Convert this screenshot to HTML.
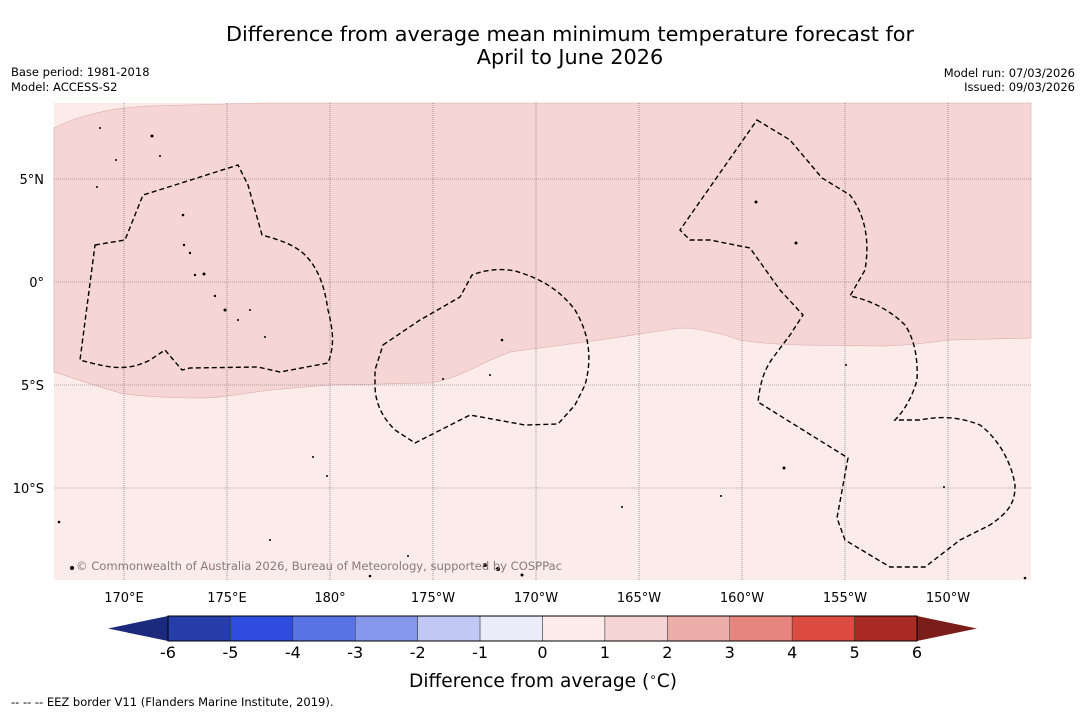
<!DOCTYPE html>
<html><head><meta charset="utf-8"><style>
body{margin:0;background:#fff;font-family:"Liberation Sans","DejaVu Sans",sans-serif;}
svg{display:block}
</style></head><body>
<svg width="1085" height="713" viewBox="0 0 1085 713" xmlns="http://www.w3.org/2000/svg" font-family="DejaVu Sans, Liberation Sans, sans-serif">
<text x="570" y="41" font-size="20.8" text-anchor="middle">Difference from average mean minimum temperature forecast for</text>
<text x="570" y="64" font-size="20.8" text-anchor="middle">April to June 2026</text>
<text x="11" y="76" font-size="11.5">Base period: 1981-2018</text>
<text x="11" y="91" font-size="11.5">Model: ACCESS-S2</text>
<text x="1075" y="77" font-size="11.5" text-anchor="end">Model run: 07/03/2026</text>
<text x="1075" y="91" font-size="11.5" text-anchor="end">Issued: 09/03/2026</text>
<g id="map">
<rect x="54" y="103" width="977" height="477" fill="#fbebe9"/>
<path fill="#f5d6d4" stroke="#d9a9a5" stroke-width="0.6" d="M54,128 C80,115 110,108 150,106 L265,103 L1031,103 L1031,338 L950,340 C920,344 900,346 880,346 L800,345 C770,344 750,342 740,340 C720,333 700,328 680,328 L600,340 L510,352 C495,358 485,362 480,365 C460,375 445,381 430,383 L330,385 L270,390 C240,394 220,398 200,398 C160,398 130,395 120,393 C90,384 70,377 54,372 Z"/>
<g id="grid" stroke="#666" stroke-width="0.6" stroke-dasharray="1,1"></g>
<g fill="none" stroke="#000" stroke-width="1.4" stroke-dasharray="5,3">
<path d="M95,245 L125,240 L143,195 L175,185 L238,165 L248,185 L262,235 C280,240 295,245 305,255 C320,270 325,290 328,310 C333,330 335,345 328,363 L280,372 L258,367 L190,368 L182,370 L165,350 L150,360 C130,370 115,370 80,360 Z"/>
<path d="M383,345 L420,320 L460,297 L472,275 C485,270 500,268 515,271 C540,278 560,290 575,310 C590,335 592,360 585,385 L575,405 L558,424 L525,425 L470,415 L415,443 L395,430 C380,415 375,400 375,385 L375,370 Z"/>
<path d="M757,120 L790,140 L822,178 L850,195 C865,215 870,240 865,270 L850,296 C870,300 890,310 905,325 C915,340 918,360 917,380 C913,395 905,410 895,420 L920,420 C935,417 955,415 980,425 C1000,440 1012,465 1015,485 C1015,500 1012,510 990,525 L960,540 L925,567 L890,567 L845,540 L837,518 L848,458 L758,402 C760,385 763,370 775,355 L790,335 L803,315 L780,290 L750,248 L710,240 L690,240 L680,230 Z"/>
</g>
<g fill="#000">
<circle cx="184" cy="245" r="1.2"/><circle cx="190" cy="253" r="1.2"/><circle cx="195" cy="275" r="1.2"/><circle cx="204" cy="274" r="1.5"/><circle cx="215" cy="296" r="1.2"/><circle cx="225" cy="310" r="1.5"/><circle cx="238" cy="320" r="1"/><circle cx="250" cy="310" r="1"/><circle cx="265" cy="337" r="1"/><circle cx="183" cy="215" r="1.3"/><circle cx="160" cy="156" r="1"/><circle cx="152" cy="136" r="1.5"/><circle cx="100" cy="128" r="1"/><circle cx="116" cy="160" r="1"/><circle cx="97" cy="187" r="1"/><circle cx="502" cy="340" r="1.3"/><circle cx="490" cy="375" r="1"/><circle cx="443" cy="379" r="1"/><circle cx="756" cy="202" r="1.5"/><circle cx="796" cy="243" r="1.5"/><circle cx="846" cy="365" r="1"/><circle cx="784" cy="468" r="1.5"/><circle cx="721" cy="496" r="1"/><circle cx="485" cy="565" r="2"/><circle cx="498" cy="569" r="2"/><circle cx="72" cy="568" r="2"/><circle cx="59" cy="522" r="1.3"/><circle cx="270" cy="540" r="1"/><circle cx="408" cy="556" r="1"/><circle cx="327" cy="476" r="1"/><circle cx="313" cy="457" r="1"/><circle cx="622" cy="507" r="1"/><circle cx="944" cy="487" r="1"/><circle cx="1025" cy="578" r="1.3"/><circle cx="522" cy="575" r="1.5"/><circle cx="370" cy="576" r="1.3"/></g>
<text x="76" y="570" font-size="11.6" fill="#8a7a78" textLength="486">© Commonwealth of Australia 2026, Bureau of Meteorology, supported by COSPPac</text>
</g>
<g id="axes" font-size="13"></g>
<g id="cbar"></g>
<text x="543" y="687" font-size="18.6" text-anchor="middle">Difference from average (<tspan font-size="12" dy="-6">∘</tspan><tspan dy="6">C)</tspan></text>
<text x="11" y="706" font-size="11.5">--  --  -- EEZ border V11 (Flanders Marine Institute, 2019).</text>
</svg>
<script>
const lonTicks=[170,175,180,185,190,195,200,205,210];
const lonLabels=["170°E","175°E","180°","175°W","170°W","165°W","160°W","155°W","150°W"];
const latTicks=[5,0,-5,-10];
const latLabels=["5°N","0°","5°S","10°S"];
const cbarBounds=[-6,-5,-4,-3,-2,-1,0,1,2,3,4,5,6];
const cbarColors=["#273da9","#2e4ddf","#5a73e4","#8597ea","#c0c8f3","#eaecf9","#fcebe9","#f5d5d3","#ecaea9","#e5857e","#db4b41","#a92b23"];
const NS="http://www.w3.org/2000/svg";
const xLon=l=>124+(l-170)*20.6;
const yLat=l=>282-l*20.6;
const grid=document.getElementById('grid'),axes=document.getElementById('axes');
function mk(t,a,p){const e=document.createElementNS(NS,t);for(const k in a)e.setAttribute(k,a[k]);p.appendChild(e);return e;}
lonTicks.forEach((l,i)=>{const x=xLon(l);
 const g=mk('line',{x1:x,x2:x,y1:103,y2:580},grid);
 
 
 const t=mk('text',{x:x,y:602,'text-anchor':'middle'},axes);t.textContent=lonLabels[i];
 
 });
latTicks.forEach((l,i)=>{const y=yLat(l);
 const g=mk('line',{x1:54,x2:1031,y1:y,y2:y},grid);
 
 
 const t=mk('text',{x:44,y:y+5,'text-anchor':'end'},axes);t.textContent=latLabels[i];
 
 });
const cb=document.getElementById('cbar');
const c0=168,c1=917,cy0=616,cy1=641;
const cx=v=>c0+(v-cbarBounds[0])/(cbarBounds[cbarBounds.length-1]-cbarBounds[0])*(c1-c0);
const la=mk('polygon',{points:`108,${(cy0+cy1)/2} ${c0},${cy0} ${c0},${cy1}`,fill:'#1b2a7c'},cb);


const ra=mk('polygon',{points:`977,${(cy0+cy1)/2} ${c1},${cy0} ${c1},${cy1}`,fill:'#7b1e19'},cb);


cbarColors.forEach((c,i)=>{const r=mk('rect',{x:cx(cbarBounds[i]),y:cy0,width:cx(cbarBounds[i+1])-cx(cbarBounds[i]),height:cy1-cy0,fill:c,stroke:'#333','stroke-width':0.5},cb);
 
 });
mk('rect',{x:c0,y:cy0,width:c1-c0,height:cy1-cy0,fill:'none',stroke:'#000','stroke-width':1},cb);
cbarBounds.forEach(v=>{const t=mk('text',{x:cx(v),y:658,'text-anchor':'middle','font-size':16},cb);t.textContent=v;
 
 });
</script>
</body></html>
